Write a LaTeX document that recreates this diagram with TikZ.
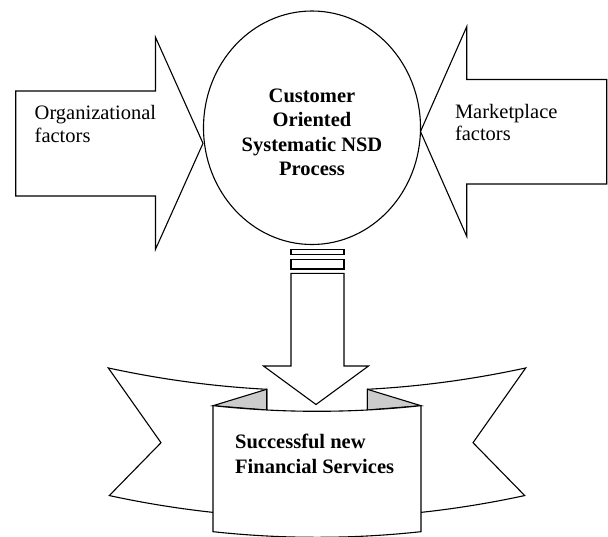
\documentclass[tikz,border=0pt]{standalone}
\usepackage{fontspec}
\setmainfont{Liberation Serif}

\tikzset{
    outline/.style = {line width = 1.1pt, line join = miter},
    side text/.style = {inner sep = 0, align = left, font = \fontsize{20.5}{22.5}\selectfont},
    bold text/.style = {inner sep = 0, font = \fontsize{20.5}{24.5}\selectfont\bfseries},
}

\begin{document}
\begin{tikzpicture}[x = 1pt, y = -1pt]

        \def\curv{5.2}
        \def\midX{317}

        \useasboundingbox (0, 0) rectangle (608, 536);

        % draw input arrows
        \draw[outline, fill = white] (15.7, 91) -- (155.5, 91) -- (155.5, 37.3) -- (203, 143.3) -- (155.5, 249.3) -- (155.5, 196) -- (15.7, 196) -- cycle;
        \draw[outline, fill = white] (606.7, 79.5) -- (466.7, 79.5) -- (466.7, 26.7) -- (420.5, 131.5) -- (466.7, 236.3) -- (466.7, 184) -- (606.7, 184) -- cycle;

        % draw process circle
        \draw[outline, fill = white] (312, 127.75) ellipse [x radius = 108.5, y radius = 116.75];

        \node[side text, anchor = north west] (orgfac) at (34.5, 105.5) {Organizational\\factors};
        \node[side text, anchor = north west] (mktfac) at (454.8, 104) {Marketplace\\factors};
        \node[bold text, anchor = north, align = center] (process) at (312, 88.7) {Customer\\Oriented\\Systematic NSD\\Process};

        % draw striped down arrow
        \draw[outline] (291, 249.3) rectangle (344, 254.3);
        \draw[outline] (291, 259.3) rectangle (344, 269);
        \draw[outline, fill = white] (291, 273.3) -- (344, 273.3) -- (344, 366) -- (368.5, 366) -- (316, 404.5) -- (263.5, 366) -- (291, 366) -- cycle;

        % draw banner
        \begin{scope}[shift = {(\midX, 0)}]

            \foreach \s in {-1, 1} {

                \begin{scope}[xscale = \s]

                    % ribbon end
                    \draw[outline, fill = white] plot[domain = -50.3:-208.7, samples = 25] (\x, {390.6 - \curv*(\x/100)*(\x/100)})
                        -- (-156, 442.7)
                        -- plot[domain = -207.7:-80, samples = 25] (\x, {518 - \curv*(\x/100)*(\x/100)})
                        -- (-50.3, 480) -- cycle;

                    % fold
                    \draw[outline, fill = black!20] (-104, 405.7) -- (-50.3, 389.3) -- (-50.3, 410) -- cycle;

                \end{scope}

            }

            % front panel
            \draw[outline, fill = white] plot[domain = -104:104, samples = 30] (\x, {411.3 - \curv*(\x/100)*(\x/100)})
                -- plot[domain = 104:-104, samples = 30] (\x, {537.3 - \curv*(\x/100)*(\x/100)}) -- cycle;

        \end{scope}

        \node[bold text, anchor = north west, align = left, font = \fontsize{20.5}{25}\selectfont\bfseries] (newfs) at (235, 434) {Successful new\\Financial Services};

\end{tikzpicture}
\end{document}
